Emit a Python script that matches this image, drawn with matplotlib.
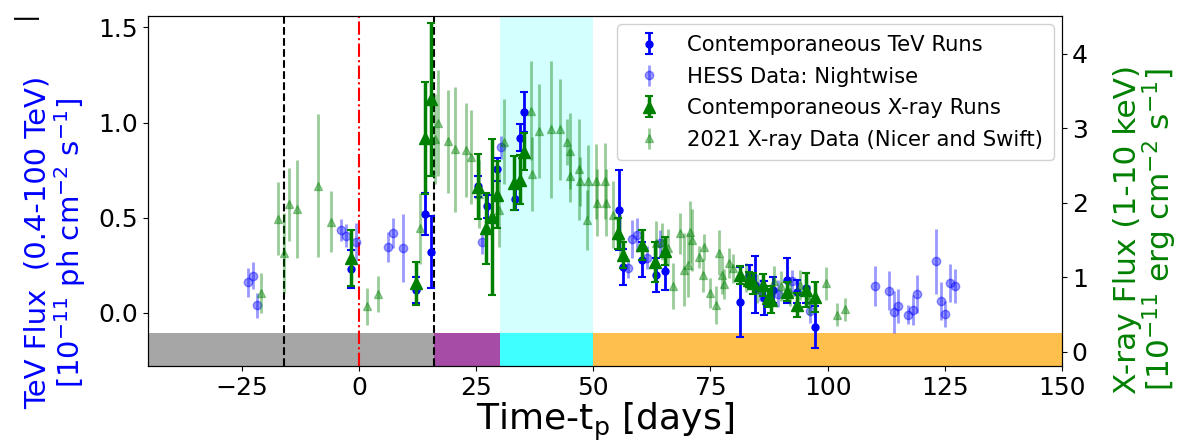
import numpy as np
import matplotlib
matplotlib.use("Agg")
import matplotlib.pyplot as plt

# -------------------------
# Data
# -------------------------

# Contemporaneous TeV runs: day, flux, error
tev_day = [-1.7, 12.2, 14.2, 15.4, 25.3, 27.3, 29.4, 33.3, 34.3, 35.3,
           55.4, 56.3, 60.3, 63.4, 65.4, 81.3, 83.3, 84.4, 86.4, 88.3,
           91.4, 93.5, 95.4, 97.4]
tev_flux = [0.23, 0.12, 0.52, 0.32, 0.665, 0.56, 0.755, 0.60, 0.92, 1.054,
            0.54, 0.24, 0.28, 0.20, 0.22, 0.056, 0.20, 0.147, 0.077, 0.12,
            0.17, 0.11, 0.13, -0.075]
tev_err = [0.10, 0.07, 0.11, 0.19, 0.055, 0.06, 0.06, 0.06, 0.07, 0.105,
           0.21, 0.095, 0.09, 0.09, 0.10, 0.185, 0.05, 0.15, 0.09, 0.07,
           0.12, 0.06, 0.08, 0.11]

# HESS nightwise
hess_day = [-23.7, -22.6, -21.7, -3.8, -2.8, -0.6, 6.3, 7.3, 9.3, 26.2,
            30.3, 57.5, 58.3, 59.3, 61.4, 64.3, 85.5, 89.5, 92.3, 96.2,
            110.2, 113.1, 114.1, 115.1, 117.2, 118.1, 119.1, 123.1, 124.1,
            125.1, 126.1, 127.1]
hess_flux = [0.16, 0.195, 0.04, 0.435, 0.405, 0.37, 0.345, 0.42, 0.34, 0.37,
             0.87, 0.235, 0.39, 0.41, 0.29, 0.365, 0.12, 0.10, 0.165, 0.007,
             0.142, 0.117, 0.005, 0.037, -0.011, 0.016, 0.10, 0.27, 0.063,
             -0.007, 0.156, 0.14]
hess_err = [0.075, 0.07, 0.065, 0.06, 0.06, 0.10, 0.08, 0.08, 0.18, 0.06,
            0.06, 0.05, 0.10, 0.09, 0.06, 0.07, 0.06, 0.07, 0.06, 0.06,
            0.105, 0.10, 0.11, 0.09, 0.05, 0.08, 0.10, 0.17, 0.10,
            0.07, 0.10, 0.09]

# Contemporaneous X-ray runs
xc_day = [-1.7, 12.2, 14.1, 15.3, 25.3, 27.2, 28.4, 29.4, 33.1, 34.4, 35.3,
          55.2, 56.3, 60.3, 63.2, 65.4, 81.4, 83.2, 84.0, 86.3, 87.2, 87.9,
          91.4, 93.5, 95.4, 97.4]
xc_flux = [1.26, 0.92, 2.87, 3.39, 2.22, 1.66, 1.81, 2.11, 2.27, 2.31, 2.69,
           1.59, 1.30, 1.44, 1.21, 1.35, 1.03, 0.97, 0.92, 0.90, 0.72, 0.70,
           0.81, 0.63, 0.83, 0.74]
xc_err = [0.38, 0.29, 0.75, 1.03, 0.44, 0.48, 1.05, 0.45, 0.36, 0.33, 0.25,
          0.21, 0.18, 0.20, 0.27, 0.19, 0.12, 0.10, 0.14, 0.15, 0.12, 0.18,
          0.13, 0.16, 0.23, 0.20]

# 2021 X-ray data (Nicer and Swift)
xr_day = [-20.9, -17.2, -16.0, -14.9, -13.3, -8.8, -6.0, 1.8, 4.1, 13.0,
          16.2, 16.8, 19.0, 20.5, 22.8, 23.9, 25.7, 29.8, 31.0, 36.8,
          36.9, 38.5, 41.0, 42.9, 44.4, 45.0, 45.0, 46.9, 47.2, 48.6,
          48.9, 50.6, 50.7, 52.6, 52.8, 54.1, 55.6, 63.4, 64.6, 66.0,
          67.1, 68.5, 69.3, 70.2, 70.7, 71.1, 72.5, 73.6, 73.5, 75.0,
          76.1, 76.8, 77.5, 77.8, 78.9, 79.9, 82.5, 85.0, 88.5, 90.0,
          92.0, 94.0, 96.0, 99.7, 101.9, 103.6]
xr_flux = [0.79, 1.79, 1.33, 1.98, 1.92, 2.23, 1.75, 0.61, 0.78, 1.66,
           2.86, 3.07, 2.83, 2.72, 2.71, 2.62, 2.12, 1.91, 2.82, 3.24,
           2.39, 2.97, 2.99, 2.99, 2.82, 2.70, 2.36, 2.45, 2.29, 1.77,
           2.29, 2.29, 2.00, 2.29, 2.00, 1.84, 1.55, 1.46, 1.48, 1.40,
           0.89, 1.59, 1.10, 1.17, 1.61, 1.50, 1.27, 1.41, 1.03, 0.79,
           0.63, 1.33, 1.03, 0.91, 1.19, 1.12, 1.00, 0.85, 0.95, 0.88,
           0.80, 0.90, 0.70, 0.92, 0.50, 0.57]
xr_err = [0.27, 0.49, 0.54, 0.49, 0.66, 0.96, 0.41, 0.25, 0.24, 0.48,
          0.60, 0.71, 0.69, 0.84, 0.63, 0.63, 0.45, 0.50, 0.57, 0.66,
          0.50, 0.63, 0.92, 0.68, 0.31, 0.51, 0.35, 0.68, 0.33, 0.40,
          0.49, 0.50, 0.45, 0.51, 0.45, 0.45, 0.30, 0.30, 0.25, 0.25,
          0.31, 0.27, 0.49, 0.43, 0.41, 0.42, 0.15, 0.17, 0.22, 0.20,
          0.25, 0.30, 0.25, 0.20, 0.20, 0.20, 0.20, 0.20, 0.20, 0.20,
          0.18, 0.20, 0.20, 0.22, 0.15, 0.15]

# period boundaries and colours of the bottom bar
period_edges = [-45, 16, 30, 50, 150]
period_colors = ["grey", "purple", "cyan", "orange"]
dashed_days = [-16, 16]

# -------------------------
# Figure
# -------------------------

fig = plt.figure(figsize=(11.79, 4.41), dpi=100)
ax = fig.add_axes([0.1255, 0.170, 0.7753, 0.7937])
ax2 = ax.twinx()

tev_lim = (-0.28, 1.56)
xr_lim = (-0.19, 4.51)
band_top = -0.105
band_frac = (band_top - tev_lim[0]) / (tev_lim[1] - tev_lim[0])

# light cyan highlight
ax.axvspan(period_edges[2], period_edges[3], color="cyan", alpha=0.17, lw=0)

# coloured period bar
for i, c in enumerate(period_colors):
    ax.axvspan(period_edges[i], period_edges[i + 1], ymin=0, ymax=band_frac,
               color=c, alpha=0.7, lw=0)

for d in dashed_days:
    ax.axvline(d, color="black", ls="--", lw=1.5)
ax.axvline(0, color="red", ls="-.", lw=1.5)

h1 = ax.errorbar(tev_day, tev_flux, yerr=tev_err, fmt="o", color="blue",
                 ms=5, capsize=3, elinewidth=2, capthick=1.5,
                 label="Contemporaneous TeV Runs", zorder=4)
h2 = ax.errorbar(hess_day, hess_flux, yerr=hess_err, fmt="o", color="blue",
                 alpha=0.4, ms=6, elinewidth=2,
                 label="HESS Data: Nightwise", zorder=3)

h3 = ax2.errorbar(xc_day, xc_flux, yerr=xc_err, fmt="^", color="green",
                  ms=8, capsize=3, elinewidth=2.5, capthick=1.5,
                  label="Contemporaneous X-ray Runs", zorder=4)
h4 = ax2.errorbar(xr_day, xr_flux, yerr=xr_err, fmt="^", color="green",
                  alpha=0.4, ms=6, elinewidth=2,
                  label="2021 X-ray Data (Nicer and Swift)", zorder=3)

ax.set_xlim(-45, 150)
ax.set_ylim(*tev_lim)
ax2.set_ylim(*xr_lim)

ax.set_xticks([-25, 0, 25, 50, 75, 100, 125, 150])
ax.set_yticks([0.0, 0.5, 1.0, 1.5])
ax2.set_yticks([0, 1, 2, 3, 4])
ax.tick_params(labelsize=18)
ax2.tick_params(labelsize=18)

ax.set_xlabel("Time-t$_\\mathrm{p}$ [days]", fontsize=26, labelpad=1)
ax.set_ylabel("TeV Flux  (0.4-100 TeV)\n[$10^{-11}$ ph cm$^{-2}$ s$^{-1}$]",
              color="blue", fontsize=21, linespacing=1.0)
ax.yaxis.set_label_coords(-0.066, 0.352)
ax2.set_ylabel("X-ray Flux (1-10 keV)\n[$10^{-11}$ erg cm$^{-2}$ s$^{-1}$]",
               color="green", fontsize=22.5, linespacing=0.95)
ax2.yaxis.set_label_coords(1.056, 0.39)

fig.text(0.021, 0.966, "|", rotation=90, ha="center", va="center", fontsize=18)

ax2.legend([h1, h2, h3, h4],
           [h.get_label() for h in [h1, h2, h3, h4]],
           loc="upper right", fontsize=15.2, framealpha=0.9,
           labelspacing=0.55, handlelength=2.0, handletextpad=0.8,
           borderpad=0.5, borderaxespad=0.4)

fig.savefig("out.png", dpi=100)
